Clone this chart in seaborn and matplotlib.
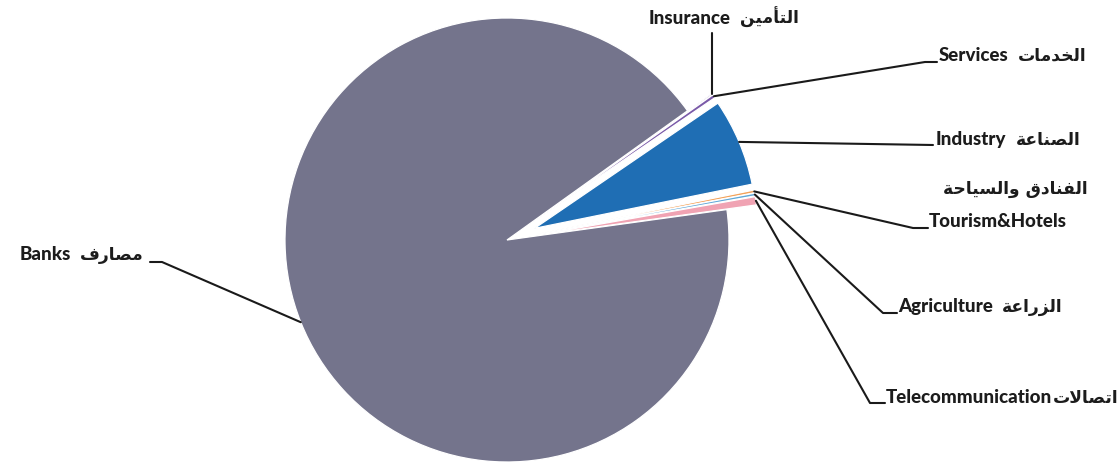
import numpy as np
import matplotlib
matplotlib.use("Agg")
import matplotlib.pyplot as plt
import seaborn as sns

# ---- data (percent shares) ----
sectors_en = ["Insurance", "Services", "Industry", "Tourism&Hotels",
              "Agriculture", "Telecommunication", "Banks"]
# Arabic names, written with presentation forms in visual order so they render joined
sectors_ar = [
    "\uFEE6\uFEF4\uFEE3\uFE84\uFE98\uFEDF\uFE8D",            # التأمين
    "\uFE95\uFE8E\uFEE3\uFEAA\uFEA8\uFEDF\uFE8D",            # الخدمات
    "\uFE94\uFECB\uFE8E\uFEE8\uFEBC\uFEDF\uFE8D",            # الصناعة
    "\uFE94\uFEA3\uFE8E\uFEF4\uFEB4\uFEDF\uFE8D\uFEED \uFED5\uFEA9\uFE8E\uFEE8\uFED4\uFEDF\uFE8D",  # الفنادق والسياحة
    "\uFE94\uFECB\uFE8D\uFEAD\uFEB0\uFEDF\uFE8D",            # الزراعة
    "\uFE95\uFEFB\uFE8E\uFEBC\uFE97\uFE8D",                  # اتصالات
    "\uFED1\uFEAD\uFE8E\uFEBC\uFEE3",                        # مصارف
]
shares = [0.10, 0.25, 6.35, 0.20, 0.20, 0.60, 92.30]
colors_hex = ["#5b3f8c", "#7a5aa8", "#1f6eb4", "#f3a25a", "#5fa8d8", "#f0a3b3", "#74748c"]
explode_frac = [0.135, 0.135, 0.135, 0.135, 0.135, 0.135, 0.0]

# ---- layout (image pixel coordinates, y down) ----
W, H = 1120, 465
CX, CY, R = 507, 240, 222
START = 35.6

sns.set_theme(style="white")
plt.rcParams["font.family"] = ["Lato", "DejaVu Sans"]

fig = plt.figure(figsize=(W / 100, H / 100), dpi=100)
ax = fig.add_axes([0, 0, 1, 1])
palette = sns.color_palette(colors_hex)

wedges, _ = ax.pie(shares, explode=[e * R for e in explode_frac], colors=palette,
                   startangle=START, counterclock=False, radius=R, center=(CX, H - CY),
                   wedgeprops=dict(edgecolor="white", linewidth=0.9))
ax.set_xlim(0, W)
ax.set_ylim(0, H)
ax.set_aspect("equal")
ax.axis("off")
renderer = fig.canvas.get_renderer()


def anchor(w):
    mid = np.deg2rad((w.theta1 + w.theta2) / 2)
    cx, cy = w.center
    return cx + w.r * np.cos(mid), cy + w.r * np.sin(mid)


def iy(y):
    return H - y


FS_EN = 13.5
FS_AR = 12.3
tc = "#1c1c1c"
lc = "#1a1a1a"
lw = 1.5
BASE = 5  # baseline offset below the text middle (px)
EN_KW = dict(fontsize=FS_EN, fontweight="black", color=tc, va="baseline",
             family=["Lato", "DejaVu Sans"])
AR_KW = dict(fontsize=FS_AR, fontweight="bold", color=tc, va="baseline",
             family=["DejaVu Sans"])


def label(x, y, en, ar, gap=9, side="left"):
    """Latin part then Arabic part (visual LTR order)."""
    yb = iy(y + BASE)
    if side == "left":
        t = ax.text(x, yb, en, ha="left", **EN_KW)
        bb = t.get_window_extent(renderer)
        ax.text(bb.x1 + gap, yb, ar, ha="left", **AR_KW)
    else:
        t = ax.text(x, yb, ar, ha="right", **AR_KW)
        bb = t.get_window_extent(renderer)
        ax.text(bb.x0 - gap, yb, en, ha="right", **EN_KW)


# label layout: (path points after anchor in image coords, text x, text y)
layout = {
    "Services": ([(925, 62), (937, 62)], 939, 56),
    "Industry": ([(933, 145)], 936, 140),
    "Tourism&Hotels": ([(913, 228), (928, 228)], 929, 222),
    "Agriculture": ([(883, 313), (897, 313)], 898, 307),
    "Telecommunication": ([(870, 403), (885, 403)], 886, 398),
    "Banks": ([(162, 262), (150, 262)], 144, 255),
}

for i, name in enumerate(sectors_en):
    ax_, ay_ = anchor(wedges[i])
    if name == "Insurance":
        ax.plot([ax_, ax_], [ay_, iy(33)], color=lc, lw=lw)
        label(649, 19, name, sectors_ar[i])
        continue
    pts, tx, ty = layout[name]
    xs = [ax_] + [p[0] for p in pts]
    ys = [ay_] + [iy(p[1]) for p in pts]
    ax.plot(xs, ys, color=lc, lw=lw)
    if name == "Tourism&Hotels":
        ax.text(tx, iy(ty + BASE), name, ha="left", **EN_KW)
        ax.text(1088, iy(189 + BASE), sectors_ar[i], ha="right", **AR_KW)
    elif name == "Telecommunication":
        label(tx, ty, name, sectors_ar[i], gap=1)
    elif name == "Banks":
        label(tx, ty, name, sectors_ar[i], side="right")
    else:
        label(tx, ty, name, sectors_ar[i])

fig.savefig("out.png", dpi=100, facecolor="white")
